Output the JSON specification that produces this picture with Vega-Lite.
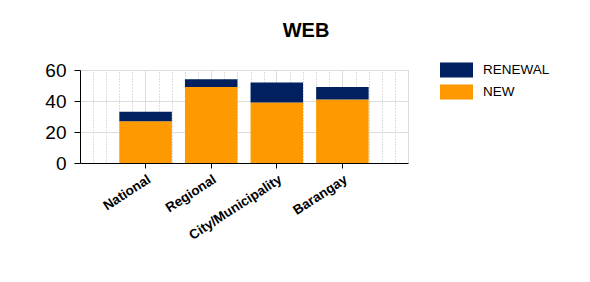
{
  "$schema": "https://vega.github.io/schema/vega-lite/v6.json",
  "autosize": "none",
  "width": 328,
  "height": 93,
  "padding": {"left": 80, "top": 70, "right": 182, "bottom": 119},
  "background": "white",
  "title": {"text": "WEB", "font": "Liberation Sans", "fontSize": 20, "fontWeight": "bold", "color": "#000000", "anchor": "middle", "dx": 62, "offset": 19},
  "data": {"values": [
    {"level": "National", "type": "NEW", "value": 27, "o": 1},
    {"level": "National", "type": "RENEWAL", "value": 6, "o": 2},
    {"level": "Regional", "type": "NEW", "value": 49, "o": 1},
    {"level": "Regional", "type": "RENEWAL", "value": 5, "o": 2},
    {"level": "City/Municipality", "type": "NEW", "value": 39, "o": 1},
    {"level": "City/Municipality", "type": "RENEWAL", "value": 13, "o": 2},
    {"level": "Barangay", "type": "NEW", "value": 41, "o": 1},
    {"level": "Barangay", "type": "RENEWAL", "value": 8, "o": 2}
  ]},
  "layer": [
    {
      "mark": {"type": "point", "opacity": 0},
      "encoding": {
        "x": {"field": "o", "type": "quantitative", "scale": {"domain": [0, 25], "nice": false},
          "axis": {"title": null, "orient": "top", "labels": false, "ticks": false, "domain": false, "grid": true, "gridDash": [1, 2], "gridColor": "#bdbdbd", "gridWidth": 1,
            "values": [1, 2, 3, 4, 6, 7, 8, 9, 11, 12, 13, 14, 16, 17, 18, 19, 21, 22, 23, 24]}},
        "y": {"field": "value", "type": "quantitative", "scale": {"domain": [0, 60]},
          "axis": {"title": null, "values": [0, 20, 40, 60], "labelFont": "Liberation Sans", "labelFontSize": 19, "labelColor": "#000000", "domainColor": "#000000", "tickColor": "#000000", "tickSize": 6, "labelPadding": 8, "gridColor": "#dcdcdc"}}
      }
    },
    {
      "mark": {"type": "bar"},
      "encoding": {
        "x": {"field": "level", "type": "nominal", "sort": ["National", "Regional", "City/Municipality", "Barangay"],
          "scale": {"paddingInner": 0.2, "paddingOuter": 0.6},
          "axis": {"title": null, "orient": "bottom", "labelAngle": -33, "labelFont": "Liberation Sans", "labelFontSize": 13.5, "labelFontWeight": "bold", "labelColor": "#000000", "domainColor": "#000000", "tickColor": "#000000", "tickSize": 5, "labelPadding": 4, "grid": true, "gridColor": "#dcdcdc"}},
        "y": {"field": "value", "type": "quantitative", "stack": "zero",
          "scale": {"domain": [0, 60]},
          "axis": {"title": null, "values": [0, 20, 40, 60], "labelFont": "Liberation Sans", "labelFontSize": 19, "labelColor": "#000000", "domainColor": "#000000", "tickColor": "#000000", "tickSize": 6, "labelPadding": 8, "gridColor": "#dcdcdc"}},
        "color": {"field": "type", "type": "nominal",
          "scale": {"domain": ["RENEWAL", "NEW"], "range": ["#002060", "#FF9900"]},
          "legend": {"title": null, "orient": "none", "legendX": 366.5, "legendY": -10, "symbolType": "M-1.65,-0.75L1.65,-0.75L1.65,0.75L-1.65,0.75Z", "symbolSize": 400, "symbolStrokeWidth": 0, "symbolOpacity": 1, "labelFont": "Liberation Sans", "labelFontSize": 13.5, "labelColor": "#000000", "rowPadding": 4, "labelOffset": 16.5}},
        "order": {"field": "o", "type": "quantitative"}
      }
    }
  ],
  "resolve": {"scale": {"x": "independent"}},
  "config": {"view": {"stroke": "#dcdcdc"}}
}
